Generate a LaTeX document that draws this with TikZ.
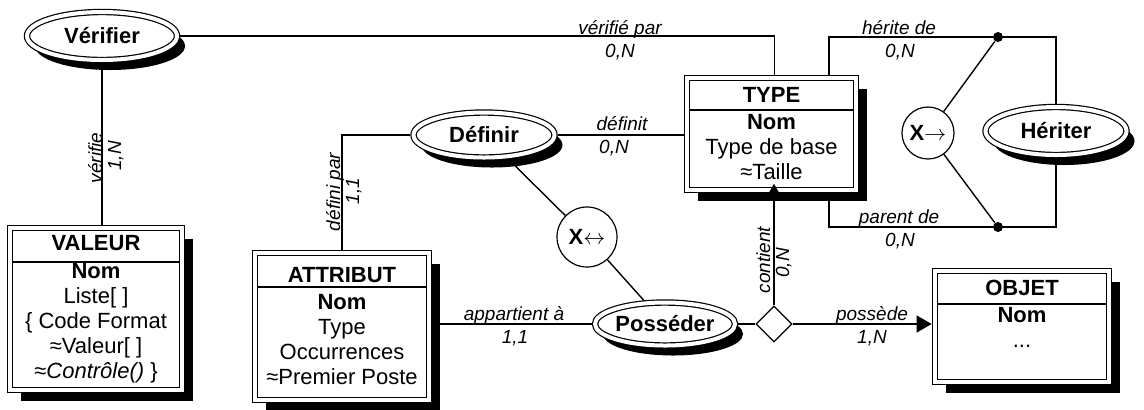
\documentclass[tikz,border=0pt]{standalone}
\usepackage{fontspec}
\setmainfont{Liberation Sans}
\usetikzlibrary{shapes.geometric,shadows,arrows.meta}

\tikzset{
  ombre/.style={general shadow={fill=black, shadow xshift=5.5pt, shadow yshift=-5.3pt}},
  entite/.style={rectangle, draw, line width=0.6pt, double=white, double distance=2.2pt,
    fill=white, ombre, inner sep=0pt, outer sep=1.7pt, align=center,
    font=\fontsize{11}{12.5}\selectfont},
  relation/.style={ellipse, draw, line width=0.6pt, double=white, double distance=2pt,
    fill=white, general shadow={fill=black, shadow xshift=4pt, shadow yshift=-5pt},
    inner sep=0pt, outer sep=1.6pt, font=\bfseries\fontsize{11}{12.5}\selectfont},
  exclu/.style={circle, draw, line width=0.6pt, fill=white, inner sep=0pt,
    font=\bfseries\fontsize{11}{12.5}\selectfont},
  patte/.style={diamond, draw, line width=0.6pt, fill=white, inner sep=0pt,
    minimum width=18pt, minimum height=18pt},
  point/.style={circle, fill=black, inner sep=0pt, minimum size=5pt},
  role/.style={font=\itshape\fontsize{9.5}{11}\selectfont, inner sep=0pt, anchor=base},
  lien/.style={line width=0.7pt},
  fleche/.style={lien, -{Triangle[length=7.5pt, width=8.5pt]}},
  entete/.style={line width=0.6pt, shorten <=3pt, shorten >=3pt},
}

\begin{document}
\begin{tikzpicture}[x=0.5pt, y=-0.5pt]
\useasboundingbox (0,0) rectangle (1144,409);
% entites
\node[entite, minimum width=86pt, minimum height=81pt] (valeur) at (96,309)
  {\textbf{VALEUR}\\[1.5pt]\textbf{Nom}\\Liste[ ]\\\{ Code Format\\≈Valeur[ ]\\≈\textit{Contrôle()} \}};
\node[entite, minimum width=84.5pt, minimum height=56pt] (type) at (771.5,134)
  {\textbf{TYPE}\\[1pt]\textbf{Nom}\\Type de base\\≈Taille};
\node[entite, minimum width=87pt, minimum height=73.5pt] (attribut) at (342,326.5)
  {\textbf{ATTRIBUT}\\[1pt]\textbf{Nom}\\Type\\Occurrences\\≈Premier Poste};
\node[entite, minimum width=87pt, minimum height=55.5pt] (objet) at (1022,326.5)
  {\textbf{OBJET}\\[1pt]\textbf{Nom}\\...\\~};
\draw[entete] (valeur.west |- 0,262) -- (valeur.east |- 0,262);
\draw[entete] (type.west |- 0,110) -- (type.east |- 0,110);
\draw[entete] (attribut.west |- 0,287) -- (attribut.east |- 0,287);
\draw[entete] (objet.west |- 0,304) -- (objet.east |- 0,304);
% relations
\node[relation, minimum width=75pt, minimum height=24pt] (verifier) at (102,36) {Vérifier};
\node[relation, minimum width=70.5pt, minimum height=22.5pt] (definir) at (484,135) {Définir};
\node[relation, minimum width=69.5pt, minimum height=21.5pt] (posseder) at (665,324) {Posséder};
\node[relation, minimum width=70.5pt, minimum height=24pt] (heriter) at (1056,131) {Hériter};
\node[exclu, minimum size=26pt] (xheriter) at (928,133) {X$\rightarrow$};
\node[exclu, minimum size=30pt] (xposseder) at (587,237) {X$\leftrightarrow$};
\node[patte] (contient) at (774,324) {};
\node[point] (phaut) at (998,37) {};
\node[point] (pbas) at (998,227) {};
% liens
\draw[lien] (verifier) -- (verifier |- valeur.north);
\draw[lien] (verifier) -| ([xshift=1.5pt]type.north);
\draw[lien] (attribut) |- (definir);
\draw[lien] (definir) -- (definir -| type.west);
\draw[lien] (definir) -- (xposseder);
\draw[lien] (xposseder) -- (posseder);
\draw[lien] (posseder) -- (posseder -| attribut.east);
\draw[lien] (posseder) -- (contient);
\draw[fleche, shorten >=-4.8pt] (contient) -- (contient |- type.south);
\draw[fleche] (contient) -- (contient -| objet.west);
\draw[lien] ([xshift=-15.2pt]type.north east) |- (phaut) -| (heriter);
\draw[lien] ([xshift=-15.2pt]type.south east) |- (pbas) -| (heriter);
\draw[lien] (phaut) -- (xheriter);
\draw[lien] (pbas) -- (xheriter);
% roles
\node[role] (rv1) at (620,34) {vérifié par};
\node[role] (cv1) at (620,57) {0,N};
\node[role] (rd1) at (622,130) {définit};
\node[role] (cd1) at (614,153) {0,N};
\node[role] (rh1) at (899,34) {hérite de};
\node[role] (ch1) at (900,57) {0,N};
\node[role] (rh2) at (899,223) {parent de};
\node[role] (ch2) at (900,246) {0,N};
\node[role] (ra1) at (514,320) {appartient à};
\node[role] (ca1) at (515,343) {1,1};
\node[role] (rp1) at (872,320) {possède};
\node[role] (cp1) at (872,343) {1,N};
\node[role, rotate=90] (rv2) at (102,158) {vérifie};
\node[role, rotate=90] (cv2) at (121,156) {1,N};
\node[role, rotate=90] (rd2) at (340,192) {défini par};
\node[role, rotate=90] (cd2) at (359,191) {1,1};
\node[role, rotate=90] (rc1) at (770,260) {contient};
\node[role, rotate=90] (cc1) at (789,263) {0,N};
\end{tikzpicture}
\end{document}
